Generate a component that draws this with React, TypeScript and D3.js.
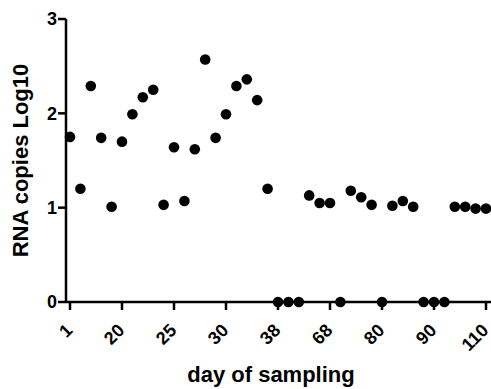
import { scaleLinear } from "d3";

const W = 491;
const H = 389;
const margin = { top: 19, right: 5, bottom: 87, left: 66 };

// log10 RNA copies, one value per sampling, in order
const rnaLog = [
  1.75, 1.2, 2.29, 1.74, 1.01, 1.7, 1.99, 2.17, 2.25, 1.03,
  1.64, 1.07, 1.62, 2.57, 1.74, 1.99, 2.29, 2.36, 2.14, 1.2,
  0, 0, 0, 1.13, 1.05, 1.05, 0, 1.18, 1.11, 1.03,
  0, 1.02, 1.07, 1.01, 0, 0, 0, 1.01, 1.01, 0.99,
  0.99,
];
// day labels, every fifth sample
const dayTicks = ["1", "20", "25", "30", "38", "68", "80", "90", "110"];
const tickStep = 5;
const yTicks = [0, 1, 2, 3];

const font = "'Liberation Sans', Arial, sans-serif";

export default function App() {
  const x = scaleLinear()
    .domain([0, rnaLog.length - 1])
    .range([margin.left + 4, margin.left + 420]);
  const y = scaleLinear().domain([0, 3]).range([H - margin.bottom, margin.top]);
  const y0 = y(0);

  return (
    <svg
      width={W}
      height={H}
      style={{ position: "absolute", left: 0, top: 0, background: "#fff" }}
      fontFamily={font}
      fontWeight="bold"
    >
      {/* y axis */}
      <line x1={margin.left} x2={margin.left} y1={y(3)} y2={y0} stroke="#000" strokeWidth={2.5} />
      {yTicks.map((t) => (
        <g key={t} transform={`translate(0, ${y(t)})`}>
          <line x1={margin.left - 8} x2={margin.left} stroke="#000" strokeWidth={2.5} />
          <text x={margin.left - 9} dy="0.36em" textAnchor="end" fontSize={18}>
            {t}
          </text>
        </g>
      ))}
      <text
        transform={`translate(28, ${(y(3) + y0) / 2}) rotate(-90)`}
        textAnchor="middle"
        fontSize={22}
      >
        RNA copies Log10
      </text>

      {/* x axis */}
      <line x1={margin.left} x2={W} y1={y0} y2={y0} stroke="#000" strokeWidth={2.5} />
      {dayTicks.map((d, i) => {
        const px = x(i * tickStep);
        return (
          <g key={d}>
            <line x1={px} x2={px} y1={y0} y2={y0 + 8} stroke="#000" strokeWidth={2.5} />
            <text
              transform={`translate(${px - 1}, ${y0 + 25}) rotate(-45)`}
              textAnchor="end"
              dy="0.35em"
              fontSize={18}
            >
              {d}
            </text>
          </g>
        );
      })}
      <text x={271} y={382} textAnchor="middle" fontSize={22}>
        day of sampling
      </text>

      {/* points */}
      {rnaLog.map((v, i) => (
        <circle key={i} cx={x(i)} cy={y(v)} r={5.3} fill="#000" />
      ))}
    </svg>
  );
}
